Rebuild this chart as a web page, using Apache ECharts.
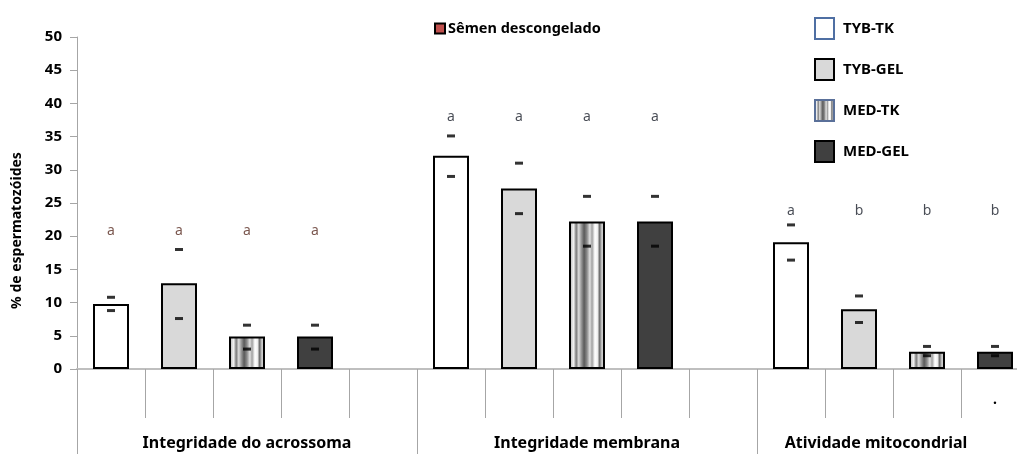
<!DOCTYPE html>
<html>
<head>
<meta charset="utf-8">
<script src="https://cdn.jsdelivr.net/npm/echarts@6/dist/echarts.min.js"></script>
<style>
  html, body { margin: 0; padding: 0; background: #fff; }
  #chart { width: 1017px; height: 454px; }
</style>
</head>
<body>
<div id="chart"></div>
<script>
// Sperm evaluation after thawing: three tests, four extender/packaging treatments
const groups = ['Integridade do acrossoma', 'Integridade membrana', 'Atividade mitocondrial'];
const treatments = ['TYB-TK', 'TYB-GEL', 'MED-TK', 'MED-GEL'];

// Means per test (acrossoma, membrana, mitocondrial)
const tybTk  = [9.8, 32.1, 19.1];
const tybGel = [12.9, 27.2, 9.0];
const medTk  = [4.9, 22.2, 2.6];
const medGel = [4.9, 22.2, 2.6];

// Upper / lower deviation marks
const tybTkHigh  = [10.8, 35.1, 21.7];
const tybTkLow   = [8.8, 29.0, 16.4];
const tybGelHigh = [18.0, 31.0, 11.0];
const tybGelLow  = [7.6, 23.4, 7.0];
const medTkHigh  = [6.6, 26.0, 3.4];
const medTkLow   = [3.0, 18.5, 2.0];
const medGelHigh = [6.6, 26.0, 3.4];
const medGelLow  = [3.0, 18.5, 2.0];

// Significance letters per test, in treatment order
const acrossomaLetters    = ['a', 'a', 'a', 'a'];
const membranaLetters     = ['a', 'a', 'a', 'a'];
const mitocondrialLetters = ['a', 'b', 'b', 'b'];

// Inner category labels (one slot per bar plus a spacer slot per test)
const slotLabels = ['', '', '', '', '', '', '', '', '', '', '', '', '', '.', ''];

const yTicks = [0, 5, 10, 15, 20, 25, 30, 35, 40, 45, 50];

// ---- layout constants ----
const SLOTS_PER_GROUP = 5;
const letterHeight = [20.8, 38.0, 23.8];
const letterColors = ['#5a2e24', '#1a1f2b', '#1a1f2b'];
const FONT = '"Noto Sans", "Liberation Sans", sans-serif';
const BAR_W = 36;

function slotIndex(g, t) { return g * SLOTS_PER_GROUP + t; }

function spread(vals, t) {
  const out = slotLabels.map(() => null);
  vals.forEach((v, g) => { out[slotIndex(g, t)] = v; });
  return out;
}

const stripeFill = new echarts.graphic.LinearGradient(0, 0, 1, 0, [
  { offset: 0.00, color: '#6e6e6e' },
  { offset: 0.07, color: '#d0d0d0' },
  { offset: 0.13, color: '#f2f2f2' },
  { offset: 0.20, color: '#7a7a7a' },
  { offset: 0.27, color: '#dcdcdc' },
  { offset: 0.34, color: '#9a9a9a' },
  { offset: 0.42, color: '#5a5a5a' },
  { offset: 0.50, color: '#8c8c8c' },
  { offset: 0.58, color: '#e2e2e2' },
  { offset: 0.64, color: '#a0a0a0' },
  { offset: 0.72, color: '#ffffff' },
  { offset: 0.79, color: '#f0f0f0' },
  { offset: 0.85, color: '#6a6a6a' },
  { offset: 0.92, color: '#d8d8d8' },
  { offset: 1.00, color: '#8a8a8a' }
]);

const barStyles = [
  { color: '#ffffff', borderColor: '#000', borderWidth: 2 },
  { color: '#d9d9d9', borderColor: '#000', borderWidth: 2 },
  { color: stripeFill, borderColor: '#000', borderWidth: 2 },
  { color: '#404040', borderColor: '#000', borderWidth: 2 }
];
const meansList = [tybTk, tybGel, medTk, medGel];
const highList = [tybTkHigh, tybGelHigh, medTkHigh, medGelHigh];
const lowList = [tybTkLow, tybGelLow, medTkLow, medGelLow];
const letterList = [acrossomaLetters, membranaLetters, mitocondrialLetters];

const series = [];
treatments.forEach((name, t) => {
  series.push({
    name: name,
    type: 'bar',
    xAxisIndex: 0,
    barWidth: BAR_W,
    barGap: '-100%',
    itemStyle: barStyles[t],
    emphasis: { disabled: true },
    data: spread(meansList[t], t)
  });
});

// Header legend entry (carries no bars)
series.push({
  name: 'Sêmen descongelado',
  type: 'bar',
  xAxisIndex: 0,
  barWidth: BAR_W,
  barGap: '-100%',
  itemStyle: { color: '#c0504d', borderColor: '#000', borderWidth: 1 },
  data: []
});

// Deviation dashes
const dashData = [];
treatments.forEach((name, t) => {
  groups.forEach((g, gi) => {
    dashData.push([slotIndex(gi, t), highList[t][gi]]);
    dashData.push([slotIndex(gi, t), lowList[t][gi]]);
  });
});
series.push({
  type: 'scatter',
  xAxisIndex: 0,
  symbol: 'rect',
  symbolSize: [8, 3],
  itemStyle: { color: '#000' },
  silent: true,
  z: 5,
  data: dashData
});

// Significance letters
const letterData = [];
groups.forEach((g, gi) => {
  letterList[gi].forEach((letter, t) => {
    letterData.push({
      value: [slotIndex(gi, t), letterHeight[gi]],
      letter: letter,
      label: { color: letterColors[gi] }
    });
  });
});
series.push({
  type: 'scatter',
  xAxisIndex: 0,
  symbolSize: 0,
  silent: true,
  data: letterData,
  label: {
    show: true,
    position: 'inside',
    fontFamily: FONT,
    fontSize: 14,
    formatter: p => p.data.letter
  }
});

const chart = echarts.init(document.getElementById('chart'), null, { renderer: 'canvas' });
chart.setOption({
  animation: false,
  backgroundColor: '#ffffff',
  grid: { left: 77, top: 37, height: 332, width: 1020, outerBoundsMode: 'none', containLabel: false },
  legend: [
    {
      data: [
        { name: 'TYB-TK', itemStyle: { borderColor: '#4f6fa3', borderWidth: 2 } },
        { name: 'TYB-GEL' },
        { name: 'MED-TK', itemStyle: { borderColor: '#5a7099', borderWidth: 2 } },
        { name: 'MED-GEL' }
      ],
      icon: 'rect',
      orient: 'vertical',
      left: 809,
      top: 12,
      itemWidth: 19,
      itemHeight: 21,
      itemGap: 18,
      selectedMode: false,
      textStyle: { fontFamily: FONT, fontSize: 15, fontWeight: 'bold', color: '#000', padding: [2, 0, 0, 4] }
    },
    {
      data: ['Sêmen descongelado'],
      icon: 'rect',
      left: 429,
      top: 16,
      itemWidth: 10,
      itemHeight: 10,
      selectedMode: false,
      textStyle: { fontFamily: FONT, fontSize: 14.5, fontWeight: 'bold', color: '#000', padding: [0, 0, 0, -2] }
    }
  ],
  xAxis: [
    {
      type: 'category',
      data: slotLabels,
      boundaryGap: true,
      axisLine: { show: true, lineStyle: { color: '#bfbfbf', width: 2 } },
      axisTick: { show: true, length: 49, interval: 0, lineStyle: { color: '#a6a6a6', width: 1 } },
      axisLabel: {
        show: true,
        interval: 0,
        margin: 24,
        fontFamily: FONT,
        fontSize: 14,
        fontWeight: 'bold',
        color: '#000'
      },
      splitLine: { show: false }
    },
    {
      type: 'category',
      position: 'bottom',
      data: slotLabels.map((s, i) => {
        const g = Math.floor(i / SLOTS_PER_GROUP);
        const centre = [2, 7, 11];
        return centre[g] === i ? groups[g] : '';
      }),
      boundaryGap: true,
      axisLine: { show: false },
      axisTick: {
        show: true,
        length: 85,
        interval: idx => idx % SLOTS_PER_GROUP === 0,
        lineStyle: { color: '#a6a6a6', width: 1 }
      },
      axisLabel: {
        show: true,
        interval: 0,
        margin: 66,
        fontFamily: FONT,
        fontSize: 16,
        fontWeight: 'bold',
        color: '#000',
        formatter: v => v === groups[2] ? '{shift|' + v + '}' : v,
        rich: {
          shift: { fontFamily: FONT, fontSize: 16, fontWeight: 'bold', color: '#000', padding: [0, 0, 0, 34] }
        }
      },
      splitLine: { show: false }
    }
  ],
  yAxis: {
    type: 'value',
    min: yTicks[0],
    max: yTicks[yTicks.length - 1],
    interval: 5,
    name: '% de espermatozóides',
    nameLocation: 'middle',
    nameGap: 53,
    nameRotate: 90,
    nameTextStyle: { fontFamily: FONT, fontSize: 14, fontWeight: 'bold', color: '#000', padding: [0, 55, 0, 0] },
    axisLine: { show: true, lineStyle: { color: '#a6a6a6', width: 1 } },
    axisTick: { show: true, inside: false, length: 7, lineStyle: { color: '#a6a6a6' } },
    axisLabel: { margin: 15, fontFamily: FONT, fontSize: 15, fontWeight: 'bold', color: '#000' },
    splitLine: { show: false }
  },
  series: series
});
</script>
</body>
</html>
